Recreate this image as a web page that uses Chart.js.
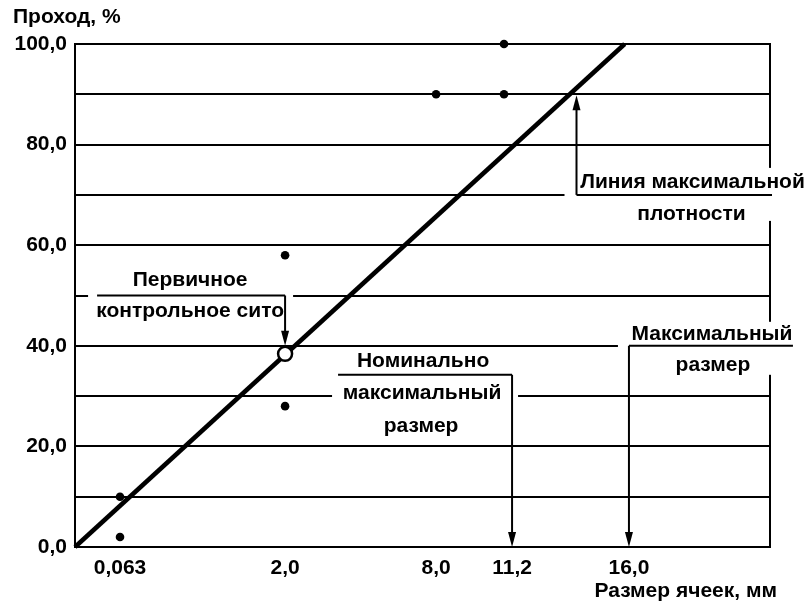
<!DOCTYPE html>
<html>
<head>
<meta charset="utf-8">
<script src="https://cdn.jsdelivr.net/npm/chart.js@4"></script>
<style>
  html, body { margin: 0; padding: 0; background: #fff; }
  #wrap { width: 808px; height: 605px; }
</style>
</head>
<body>
<div id="wrap"><canvas id="c" width="808" height="605"></canvas></div>
<script>
// ---- data ----
const sieveLabels = ['0,063', '2,0', '8,0', '11,2', '16,0'];          // sieve sizes, mm
const sievePositions = [0.285, 1.33, 2.286, 2.767, 3.507];            // positions on the gradation axis
const yTickValues = [0, 10, 20, 30, 40, 50, 60, 70, 80, 90, 100];     // passing, %
const maxDensityX = [0, 3.48];
const maxDensityY = [0, 100];
const controlX = [0.285, 0.285, 1.33, 1.33, 2.286, 2.716, 2.716];
const controlY = [10, 2, 58, 28, 90, 90, 100];
const primarySieveX = [1.33];
const primarySieveY = [38.4];
const xAxisMax = 4.4;
const yTitle = 'Проход, %';
const xTitle = 'Размер ячеек, мм';

const FONT = '"Liberation Sans", Arial, sans-serif';
const FS = 21;
const FW = 'bold';

function pts(xs, ys) { return xs.map((x, i) => ({ x: x, y: ys[i] })); }

const annotationPlugin = {
  id: 'annos',
  beforeDatasetsDraw(chart) {
    const ctx = chart.ctx;
    const xs = chart.scales.x, ys = chart.scales.y;
    const ca = chart.chartArea;
    const px = v => xs.getPixelForValue(v);
    const py = v => ys.getPixelForValue(v);
    const W = chart.width;

    ctx.save();
    // right frame line
    ctx.strokeStyle = '#000';
    ctx.lineWidth = 2;
    ctx.beginPath();
    ctx.moveTo(ca.right, ca.top - 1);
    ctx.lineTo(ca.right, ca.bottom + 1);
    ctx.stroke();

    function white(x1, y1, x2, y2) {
      ctx.fillStyle = '#fff';
      ctx.fillRect(x1, y1, x2 - x1, y2 - y1);
    }
    function line(x1, y1, x2, y2, w) {
      ctx.strokeStyle = '#000';
      ctx.lineWidth = w || 2;
      ctx.beginPath();
      ctx.moveTo(x1, y1);
      ctx.lineTo(x2, y2);
      ctx.stroke();
    }
    function arrowHead(x, y, dir) { // dir: -1 up, +1 down; tip at (x,y)
      ctx.fillStyle = '#000';
      ctx.beginPath();
      ctx.moveTo(x, y);
      ctx.lineTo(x - 4, y - dir * 15);
      ctx.lineTo(x + 4, y - dir * 15);
      ctx.closePath();
      ctx.fill();
    }
    function text(s, x, y) {
      ctx.fillStyle = '#000';
      ctx.font = FW + ' ' + FS + 'px ' + FONT;
      ctx.textAlign = 'center';
      ctx.textBaseline = 'middle';
      ctx.fillText(s, x, y);
    }

    // A: Линия максимальной плотности
    {
      const lx = px(3.175), base = py(70);
      white(lx - 12, base - 27, W, base + 26);
      line(lx, base, ca.right + 2, base);
      line(lx, base, lx, py(90) + 14, 2);
      arrowHead(lx, py(90) + 1, -1);
      text('Линия максимальной', lx + 116, base - 13);
      text('плотности', lx + 115, base + 19);
    }
    // B: Первичное контрольное сито
    {
      const lx = px(primarySieveX[0]), base = py(50);
      white(lx - 197, base - 5, lx + 8, base + 30);
      line(lx - 188, base, lx, base);
      line(lx, base, lx, py(primarySieveY[0]) - 20, 2);
      arrowHead(lx, py(primarySieveY[0]) - 8, 1);
      text('Первичное', lx - 95, base - 15);
      text('контрольное сито', lx - 95, base + 16);
    }
    // C: Номинально максимальный размер
    {
      const lx = px(sievePositions[3]), uy = py(40) + 29;
      white(lx - 180, py(30) - 16, lx + 6, py(30) + 44);
      line(lx - 174, uy, lx, uy);
      line(lx, uy, lx, py(0) - 12, 2);
      arrowHead(lx, py(0), 1);
      text('Номинально', lx - 89, uy - 14);
      text('максимальный', lx - 90, py(30) - 3);
      text('размер', lx - 91, py(30) + 30);
    }
    // D: Максимальный размер
    {
      const lx = px(sievePositions[4]), base = py(40);
      white(lx - 11, base - 24, W, base + 29);
      line(lx, base, lx + 164, base);
      line(lx, base, lx, py(0) - 12, 2);
      arrowHead(lx, py(0), 1);
      text('Максимальный', lx + 83, base - 12);
      text('размер', lx + 84, base + 19);
    }

    // axis titles
    ctx.fillStyle = '#000';
    ctx.font = FW + ' ' + FS + 'px ' + FONT;
    ctx.textBaseline = 'middle';
    ctx.textAlign = 'left';
    ctx.fillText(yTitle, 13, 17);
    ctx.textAlign = 'right';
    ctx.fillText(xTitle, 777, 591);
    ctx.restore();
  }
};

new Chart(document.getElementById('c'), {
  data: {
    datasets: [
      {
        type: 'line',
        order: 2,
        data: pts(maxDensityX, maxDensityY),
        borderColor: '#000',
        borderWidth: 4.5,
        pointRadius: 0,
        clip: false
      },
      {
        type: 'scatter',
        order: 1,
        data: pts(controlX, controlY),
        backgroundColor: '#000',
        borderColor: '#000',
        pointRadius: 4.3,
        borderWidth: 0,
        clip: false
      },
      {
        type: 'scatter',
        order: 0,
        data: pts(primarySieveX, primarySieveY),
        backgroundColor: '#fff',
        borderColor: '#000',
        pointRadius: 7,
        borderWidth: 2.5,
        clip: false
      }
    ]
  },
  options: {
    responsive: false,
    animation: false,
    events: [],
    layout: { padding: { top: 44, right: 38, left: 0, bottom: 0 } },
    plugins: { legend: { display: false }, tooltip: { enabled: false } },
    scales: {
      x: {
        type: 'linear',
        min: 0,
        max: xAxisMax,
        afterBuildTicks(axis) { axis.ticks = sievePositions.map(v => ({ value: v })); },
        afterFit(axis) { axis.height = 58; },
        grid: { display: false, drawTicks: false },
        border: { display: false },
        ticks: {
          autoSkip: false,
          maxRotation: 0,
          padding: 9,
          color: '#000',
          font: { family: FONT, size: FS, weight: FW },
          callback: (v, i) => sieveLabels[i]
        }
      },
      y: {
        type: 'linear',
        min: 0,
        max: 100,
        afterBuildTicks(axis) { axis.ticks = yTickValues.map(v => ({ value: v })); },
        afterFit(axis) { axis.width = 75; },
        grid: { color: '#000', lineWidth: 2, drawTicks: false },
        border: { display: true, color: '#000', width: 2 },
        ticks: {
          padding: 8,
          color: '#000',
          font: { family: FONT, size: FS, weight: FW },
          callback: v => (v % 20 === 0 ? v.toFixed(1).replace('.', ',') : '')
        }
      }
    }
  },
  plugins: [annotationPlugin]
});
</script>
</body>
</html>
